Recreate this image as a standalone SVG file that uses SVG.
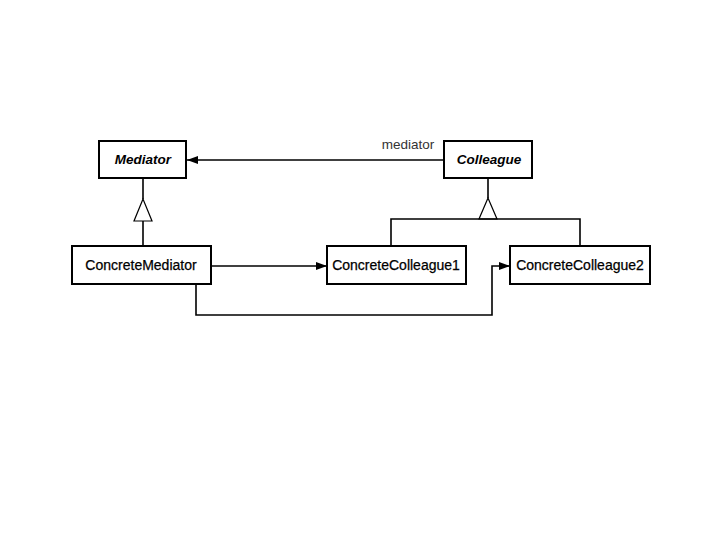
<svg xmlns="http://www.w3.org/2000/svg" width="720" height="540" viewBox="0 0 720 540">
<style>
.box{fill:#fff;stroke:#000;stroke-width:2}
.lbl{font-family:"Liberation Sans",Arial,sans-serif;font-size:14px;fill:#000;stroke:#000;stroke-width:0.25;text-anchor:middle}
.abs{font-size:13.5px;font-weight:bold;font-style:italic;stroke:none}
.ln{fill:none;stroke:#000;stroke-width:1.6}
.tri{fill:#fff;stroke:#000;stroke-width:1.2}
</style>
<defs>
<marker id="ah" markerWidth="11" markerHeight="9" refX="11" refY="4.5" orient="auto" markerUnits="userSpaceOnUse">
<path d="M0,0.5 L11,4.5 L0,8.5 Z" fill="#000"/>
</marker>
</defs>
<rect width="720" height="540" fill="#fff"/>
<g id="connectors">
<line class="ln" x1="444" y1="160" x2="187" y2="160" marker-end="url(#ah)"/>
<text class="lbl" x="408" y="149" style="font-size:13.5px;fill:#333;stroke:none">mediator</text>
<line class="ln" x1="143" y1="178" x2="143" y2="199"/>
<polygon class="tri" points="143,199 134,221 152,221"/>
<line class="ln" x1="143" y1="221" x2="143" y2="246"/>
<line class="ln" x1="488" y1="178" x2="488" y2="198"/>
<polygon class="tri" points="488,198 479,219 497,219"/>
<polyline class="ln" points="391,246 391,219 580,219 580,246"/>
<line class="ln" x1="212" y1="266" x2="327" y2="266" marker-end="url(#ah)"/>
<polyline class="ln" points="196,284 196,315 492,315 492,266 510,266" marker-end="url(#ah)"/>
</g>
<g id="Mediator"><rect class="box" x="99" y="141" width="87" height="37"/><text class="lbl abs" x="143" y="164">Mediator</text></g>
<g id="Colleague"><rect class="box" x="444" y="141" width="88" height="37"/><text class="lbl abs" x="489" y="164">Colleague</text></g>
<g id="ConcreteMediator"><rect class="box" x="72" y="246" width="139" height="38"/><text class="lbl" x="141" y="270">ConcreteMediator</text></g>
<g id="ConcreteColleague1"><rect class="box" x="327" y="246" width="139" height="38"/><text class="lbl" x="396" y="270">ConcreteColleague1</text></g>
<g id="ConcreteColleague2"><rect class="box" x="510" y="246" width="140" height="38"/><text class="lbl" x="580" y="270">ConcreteColleague2</text></g>
</svg>
